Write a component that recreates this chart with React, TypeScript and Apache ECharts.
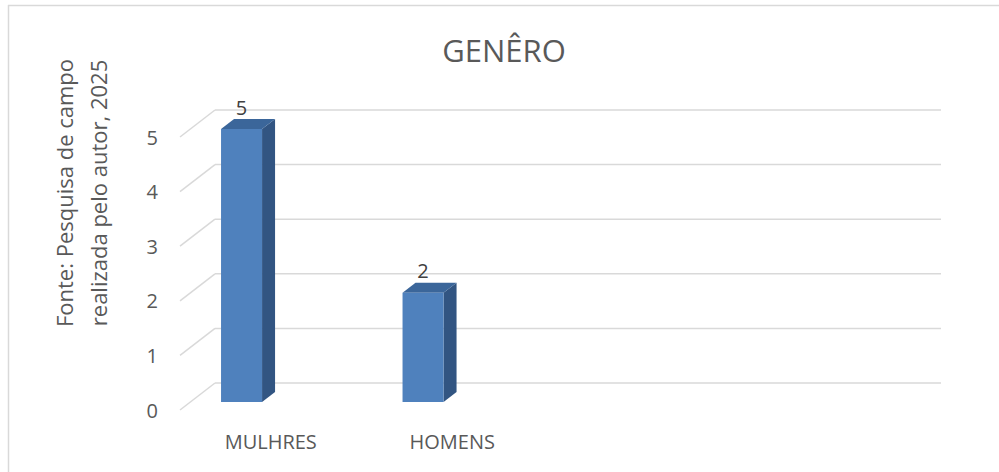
import React, { useEffect, useRef } from "react";
import * as echarts from "echarts";

const categories = ["MULHRES", "HOMENS", "", ""];
const values = [5, 2];
const yTicks = [0, 1, 2, 3, 4, 5];
const titleText = "GENÊRO";
const axisTitleLines = ["Fonte: Pesquisa de campo", "realizada pelo autor, 2025"];

const FONT = "'Open Sans', sans-serif";
const TEXT_COLOR = "#595959";
const GRID_COLOR = "#d9d9d9";

// 3D geometry
const BACK_DX = 35;
const BACK_DY = -27;
const PLANE_DX = 10;
const PLANE_DY = -8;
const DEPTH_DX = 13;
const DEPTH_DY = -10;
const BAR_OFFSET = -0.329;
const BAR_W = 0.226;

export default function App() {
  const ref = useRef<HTMLDivElement>(null);
  useEffect(() => {
    if (!ref.current) return;
    const chart = echarts.init(ref.current, null, { renderer: "svg" });
    const option: any = {
      animation: false,
      backgroundColor: "#ffffff",
      grid: { left: 180, right: 93, top: 137, bottom: 62 },
      xAxis: {
        type: "category",
        data: categories,
        axisLine: { show: false },
        axisTick: { show: false },
        splitLine: { show: false },
        axisLabel: {
          color: TEXT_COLOR,
          fontFamily: FONT,
          fontSize: 20,
          margin: 21,
          interval: 0,
        },
      },
      yAxis: {
        type: "value",
        min: 0,
        max: 5,
        interval: 1,
        axisLine: { show: false },
        axisTick: { show: false },
        splitLine: { show: false },
        axisLabel: {
          color: TEXT_COLOR,
          fontFamily: FONT,
          fontSize: 20,
          margin: 22,
        },
      },
      graphic: [
        {
          type: "line",
          shape: { x1: 8, y1: 5.5, x2: 999, y2: 5.5 },
          style: { stroke: GRID_COLOR, lineWidth: 1.5 },
        },
        {
          type: "line",
          shape: { x1: 8.5, y1: 5, x2: 8.5, y2: 472 },
          style: { stroke: GRID_COLOR, lineWidth: 1.5 },
        },
        {
          type: "text",
          x: 504,
          y: 50,
          style: {
            text: titleText,
            fill: TEXT_COLOR,
            font: `31px ${FONT}`,
            textAlign: "center",
            textVerticalAlign: "middle",
          },
        },
        {
          type: "text",
          x: 81,
          y: 193,
          rotation: Math.PI / 2,
          style: {
            text: axisTitleLines.join("\n"),
            fill: TEXT_COLOR,
            font: `22px ${FONT}`,
            lineHeight: 34,
            textAlign: "center",
            textVerticalAlign: "middle",
          },
        },
      ],
      series: [
        {
          type: "custom",
          z: 1,
          data: yTicks.map((t) => [0, t]),
          renderItem: (params: any, api: any) => {
            const cs = params.coordSys;
            const yf = api.coord([0, api.value(1)])[1];
            const left = cs.x;
            const right = cs.x + cs.width;
            return {
              type: "group",
              children: [
                {
                  type: "line",
                  shape: { x1: left, y1: yf, x2: left + BACK_DX, y2: yf + BACK_DY },
                  style: { stroke: GRID_COLOR, lineWidth: 1.5 },
                },
                {
                  type: "line",
                  shape: {
                    x1: left + BACK_DX,
                    y1: yf + BACK_DY,
                    x2: right + BACK_DX,
                    y2: yf + BACK_DY,
                  },
                  style: { stroke: GRID_COLOR, lineWidth: 1.5 },
                },
              ],
            };
          },
        },
        {
          type: "custom",
          z: 2,
          data: values.map((v, i) => [i, v]),
          renderItem: (params: any, api: any) => {
            const i = api.value(0);
            const v = api.value(1);
            const [cx, yTop] = api.coord([i, v]);
            const y0 = api.coord([i, 0])[1];
            const band = api.size([1, 0])[0];
            const left = cx + PLANE_DX + BAR_OFFSET * band;
            const w = BAR_W * band;
            const top = yTop + PLANE_DY;
            const bottom = y0 + PLANE_DY;
            return {
              type: "group",
              children: [
                {
                  type: "polygon",
                  shape: {
                    points: [
                      [left + w, top],
                      [left + w + DEPTH_DX, top + DEPTH_DY],
                      [left + w + DEPTH_DX, bottom + DEPTH_DY],
                      [left + w, bottom],
                    ],
                  },
                  style: { fill: "#325582" },
                },
                {
                  type: "polygon",
                  shape: {
                    points: [
                      [left, top],
                      [left + DEPTH_DX, top + DEPTH_DY],
                      [left + w + DEPTH_DX, top + DEPTH_DY],
                      [left + w, top],
                    ],
                  },
                  style: { fill: "#3b669a" },
                },
                {
                  type: "rect",
                  shape: { x: left, y: top, width: w, height: bottom - top },
                  style: { fill: "#4f81bd" },
                },
                {
                  type: "text",
                  x: left + w / 2,
                  y: top + DEPTH_DY - 2,
                  style: {
                    text: String(v),
                    fill: "#404040",
                    font: `20px ${FONT}`,
                    textAlign: "center",
                    textVerticalAlign: "bottom",
                  },
                },
              ],
            };
          },
        },
      ],
    };
    chart.setOption(option);
    return () => chart.dispose();
  }, []);
  return (
    <div
      ref={ref}
      style={{ position: "absolute", left: 0, top: 0, width: 999, height: 472 }}
    />
  );
}
